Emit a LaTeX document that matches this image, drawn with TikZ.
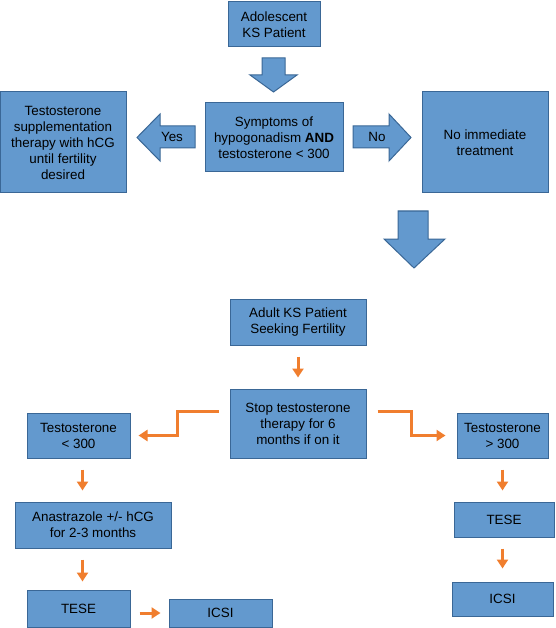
\documentclass[tikz,border=0pt]{standalone}
\usepackage{fontspec}
\setmainfont{Liberation Sans}
\usetikzlibrary{arrows.meta}
\definecolor{bfill}{HTML}{6399CE}
\definecolor{bdr}{HTML}{3A6796}
\definecolor{oran}{HTML}{F07E2E}
\begin{document}
\begin{tikzpicture}[x=1pt,y=-1pt,
  box/.style={draw=bdr,fill=bfill,line width=1pt,align=center,inner sep=0pt,
    font=\fontsize{13.4}{16}\selectfont},
  barrow/.style={draw=bdr,fill=bfill,line width=1pt,line join=miter},
  oarr/.style={draw=oran,line width=3pt,-{Triangle[length=9pt,width=11pt]}},
  lbl/.style={font=\fontsize{13.4}{16}\selectfont,inner sep=0pt}]
\useasboundingbox (0,0) rectangle (555,628);
% boxes
\node[box,minimum width=92pt,minimum height=45pt] (ado) at (274,24.5) {Adolescent\\KS Patient};
\node[box,minimum width=126pt,minimum height=101pt] (supp) at (63,142.5) {Testosterone\\supplementation\\therapy with hCG\\until fertility\\desired};
\node[box,minimum width=138pt,minimum height=69pt] (symp) at (274,137.5) {Symptoms of\\hypogonadism \textbf{AND}\\testosterone {<} 300};
\node[box,minimum width=126pt,minimum height=101pt] (noimm) at (485,142.5) {No immediate\\treatment};
\node[box,minimum width=136pt,minimum height=46pt] (adult) at (298,322) {Adult KS Patient\\Seeking Fertility};
\node[box,minimum width=136pt,minimum height=69pt] (stop) at (298,423.5) {Stop testosterone\\therapy for 6\\months if on it};
\node[box,minimum width=103pt,minimum height=45pt] (tl) at (78.5,435.5) {Testosterone\\{<} 300};
\node[box,minimum width=91pt,minimum height=45pt] (tr) at (502.5,435.5) {Testosterone\\{>} 300};
\node[box,minimum width=156pt,minimum height=46pt] (ana) at (93,525) {Anastrazole +/- hCG\\for 2-3 months};
\node[box,minimum width=103pt,minimum height=37pt] (teseL) at (78.5,608.5) {TESE};
\node[box,minimum width=103pt,minimum height=28pt] (icsiL) at (220.5,613) {ICSI};
\node[box,minimum width=100pt,minimum height=35pt] (teseR) at (504,519.5) {TESE};
\node[box,minimum width=101pt,minimum height=34pt] (icsiR) at (502.5,599) {ICSI};
% block arrows
\draw[barrow] (262,58) -- (285,58) -- (285,75) -- (297,75) -- (273.5,92) -- (250,75) -- (262,75) -- cycle;
\draw[barrow] (137,137.5) -- (160,114) -- (160,126) -- (195,126) -- (195,148) -- (160,148) -- (160,161) -- cycle;
\node[lbl] (yes) at (172,137) {Yes};
\draw[barrow] (353,126) -- (389,126) -- (389,114) -- (411,137.5) -- (389,161) -- (389,148) -- (353,148) -- cycle;
\node[lbl] (no) at (377,137) {No};
\draw[barrow] (398,211) -- (428,211) -- (428,239) -- (445,239) -- (414,268) -- (384,239) -- (398,239) -- cycle;
% orange connectors
\draw[oarr,shorten <=11pt,shorten >=11pt] (adult.south) -- (stop.north);
\draw[oarr] ([xshift=-11pt,yshift=-23pt]stop.north west) -- ++(-41,0) |- ([xshift=8pt]tl.east);
\draw[oarr] ([xshift=11pt,yshift=-23pt]stop.north east) -- ++(34,0) |- ([xshift=-11pt]tr.west);
\draw[oarr,shorten <=11pt,shorten >=11pt] ([xshift=4pt]tl.south) -- ([xshift=4pt]tl.south |- ana.north);
\draw[oarr,shorten <=11pt,shorten >=8pt] ([xshift=4pt]tl.south |- ana.south) -- ([xshift=4pt]tl.south |- teseL.north);
\draw[oarr,shorten <=9pt,shorten >=8pt] (teseL.east |- icsiL.west) -- (icsiL.west);
\draw[oarr,shorten <=11pt,shorten >=11pt] (tr.south) -- (tr.south |- teseR.north);
\draw[oarr,shorten <=11pt,shorten >=13pt] (tr.south |- teseR.south) -- (tr.south |- icsiR.north);
\end{tikzpicture}
\end{document}
